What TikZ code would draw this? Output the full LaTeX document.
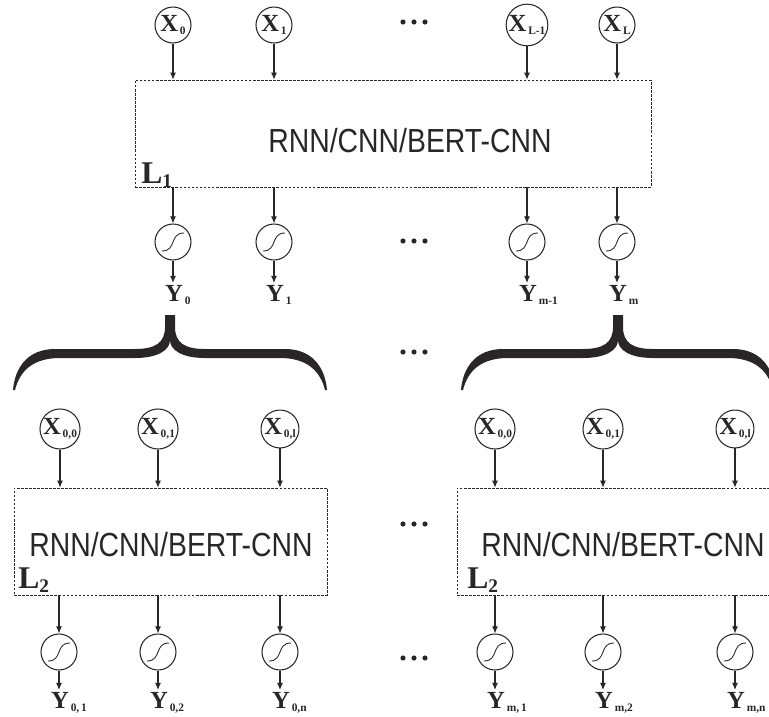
\documentclass[tikz,border=0pt]{standalone}
\usepackage{fontspec}
\setmainfont{Liberation Serif}
\newfontfamily\boxfont[FakeStretch=0.85]{Liberation Sans}
\usetikzlibrary{arrows.meta}

\definecolor{ink}{HTML}{2A2526}

% Beschriftungen
\newcommand{\lbl}[2]{{\fontsize{14}{15}\selectfont\bfseries #1}\raisebox{-2pt}{\fontsize{6.5}{7}\selectfont\bfseries\,#2}}
\newcommand{\layer}[1]{{\fontsize{18}{19}\selectfont\bfseries L}\raisebox{-2.5pt}{\fontsize{11}{12}\selectfont\bfseries #1}}

\tikzset{
  inp/.style={circle, draw=ink, line width=0.6pt, inner sep=0pt, minimum size=0.72cm, text=ink},
  sig/.style={circle, draw=ink, line width=0.6pt, inner sep=0pt, minimum size=0.72cm,
    path picture={\draw[ink, line width=0.5pt] (path picture bounding box.center) ++(-0.22cm,-0.18cm)
      .. controls +(0.3cm,0) and +(-0.3cm,0) .. ++(0.44cm,0.36cm);}},
  layerbox/.style={draw=ink, line width=0.4pt, dash pattern=on 1.5pt off 0.8pt, inner sep=0pt},
  nettext/.style={inner sep=0pt, text=ink, font=\boxfont\fontsize{19}{22}\selectfont},
  outl/.style={inner sep=1pt, text=ink},
  arr/.style={ink, line width=0.6pt, -{Latex[length=4pt, width=3.4pt]}},
  curly/.pic={
    \fill[ink] (-5,0) -- (5,0) -- (5,12) .. controls (5,28) and (15,34) .. (35,34) -- (115,34)
      .. controls (142,34) and (155,52) .. (157,75) -- (155,75) .. controls (150,55) and (136,43) .. (110,43)
      -- (35,43) .. controls (12,43) and (0,35) .. (0,25) .. controls (0,35) and (-12,43) .. (-35,43)
      -- (-110,43) .. controls (-136,43) and (-150,55) .. (-155,75) -- (-157,75)
      .. controls (-155,52) and (-142,34) .. (-115,34) -- (-35,34) .. controls (-15,34) and (-5,28) .. (-5,12) -- cycle;
  }
}

\begin{document}
\begin{tikzpicture}[x=0.02cm, y=-0.02cm]
  \useasboundingbox (0,0) rectangle (769,717);

  % Ebene L1
  \node[inp] (x0)  at (173,25) {\lbl{X}{0}};
  \node[inp] (x1)  at (274,25) {\lbl{X}{1}};
  \node[inp] (xl1) at (527,25) {\lbl{X}{L-1}};
  \node[inp] (xl)  at (617,25) {\lbl{X}{L}};

  \node[layerbox, minimum width=10.32cm, minimum height=2.14cm] (box1) at (393,133.5) {};
  \node[nettext, anchor=base] (t1) at (410,152) {RNN/CNN/BERT-CNN};
  \node[anchor=base west, inner sep=0pt, text=ink] (l1) at (141,183) {\layer{1}};

  \node[sig] (s0)  at (173,242) {};
  \node[sig] (s1)  at (274,242) {};
  \node[sig] (sm1) at (527,242) {};
  \node[sig] (sm)  at (617,242) {};

  \node[outl, anchor=north west] (y0)  at (163,283) {\lbl{Y}{0}};
  \node[outl, anchor=north west] (y1)  at (264,283) {\lbl{Y}{1}};
  \node[outl, anchor=north west] (ym1) at (517,283) {\lbl{Y}{m-1}};
  \node[outl, anchor=north west] (ym)  at (607,283) {\lbl{Y}{m}};

  \foreach \n in {x0,x1,xl1,xl}
    \draw[arr] (\n) -- (\n |- box1.north);
  \foreach \n in {s0,s1,sm1,sm}
    \draw[arr] (\n |- box1.south) -- (\n);
  \foreach \s/\y in {s0/y0,s1/y1,sm1/ym1,sm/ym}
    \draw[arr] (\s) -- (\s |- \y.north);

  % Klammern
  \pic (bra) at (170,315) {curly};
  \pic (brb) at (618,315) {curly};

  % Ebene L2 (links)
  \node[inp] (xa0) at (60,429)  {\lbl{X}{0,0}};
  \node[inp] (xa1) at (158,429) {\lbl{X}{0,1}};
  \node[inp] (xal) at (280,429) {\lbl{X}{0,l}};

  \node[layerbox, minimum width=6.26cm, minimum height=2.14cm] (box2a) at (170.5,541.5) {};
  \node[nettext, anchor=base] (t2a) at (171,556) {RNN/CNN/BERT-CNN};
  \node[anchor=base west, inner sep=0pt, text=ink] (l2a) at (18,588) {\layer{2}};

  \node[sig] (sa1) at (59,652)  {};
  \node[sig] (sa2) at (158,652) {};
  \node[sig] (san) at (280,652) {};

  \node[outl, anchor=north west] (ya1) at (49,690)  {\lbl{Y}{0,\,1}};
  \node[outl, anchor=north west] (ya2) at (148,690) {\lbl{Y}{0,2}};
  \node[outl, anchor=north west] (yan) at (270,690) {\lbl{Y}{0,n}};

  % Ebene L2 (rechts)
  \node[inp] (xb0) at (495,429) {\lbl{X}{0,0}};
  \node[inp] (xb1) at (603,429) {\lbl{X}{0,1}};
  \node[inp] (xbl) at (735,429) {\lbl{X}{0,l}};

  \node[layerbox, minimum width=6.3cm, minimum height=2.14cm] (box2b) at (614.5,541.5) {};
  \node[nettext, anchor=base] (t2b) at (623,556) {RNN/CNN/BERT-CNN};
  \node[anchor=base west, inner sep=0pt, text=ink] (l2b) at (467,588) {\layer{2}};

  \node[sig] (sb1) at (495,652) {};
  \node[sig] (sb2) at (603,652) {};
  \node[sig] (sbn) at (735,652) {};

  \node[outl, anchor=north west] (yb1) at (485,690) {\lbl{Y}{m,\,1}};
  \node[outl, anchor=north west] (yb2) at (593,690) {\lbl{Y}{m,2}};
  \node[outl, anchor=north west] (ybn) at (725,690) {\lbl{Y}{m,n}};

  \foreach \n in {xa0,xa1,xal}
    \draw[arr] (\n) -- (\n |- box2a.north);
  \foreach \n in {xb0,xb1,xbl}
    \draw[arr] (\n) -- (\n |- box2b.north);
  \foreach \n in {sa1,sa2,san}
    \draw[arr] (\n |- box2a.south) -- (\n);
  \foreach \n in {sb1,sb2,sbn}
    \draw[arr] (\n |- box2b.south) -- (\n);
  \foreach \s/\y in {sa1/ya1,sa2/ya2,san/yan,sb1/yb1,sb2/yb2,sbn/ybn}
    \draw[arr] (\s) -- (\s |- \y.north);

  % Punkte
  \foreach \r in {22,241,352,524,658}
    \foreach \d in {-11,0,11}
      \fill[ink] (414+\d,\r) circle[radius=2.6];
\end{tikzpicture}
\end{document}
